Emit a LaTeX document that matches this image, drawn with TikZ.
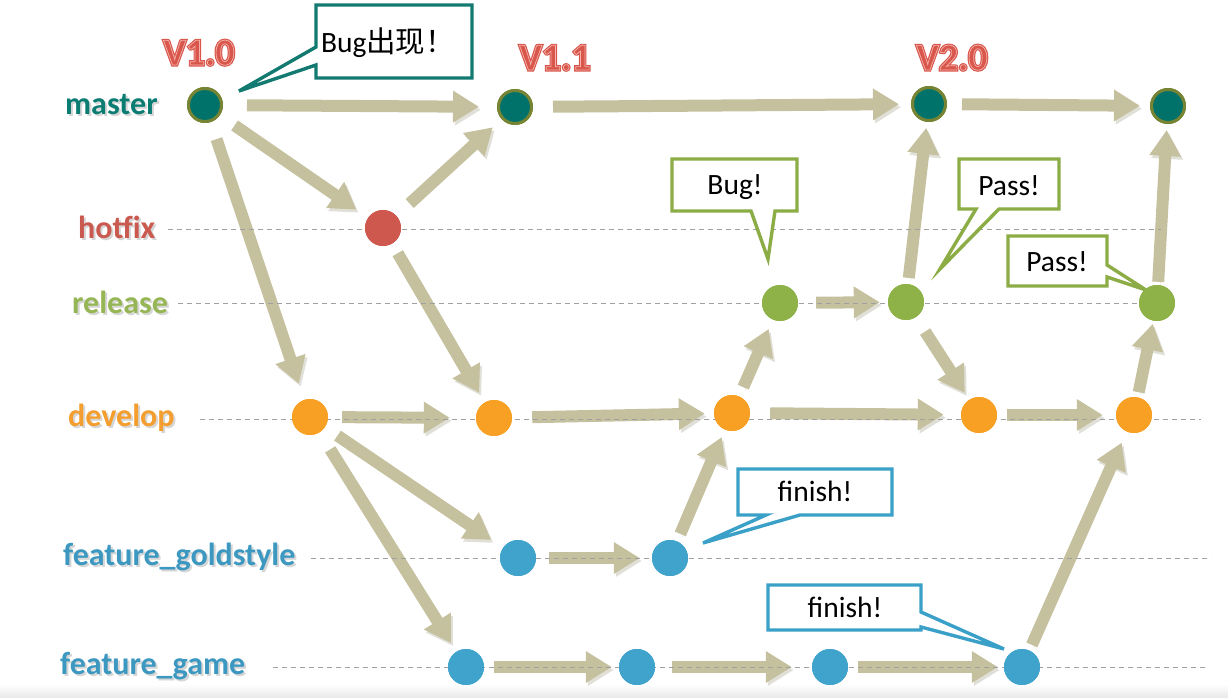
\documentclass[tikz,border=0pt]{standalone}
\usepackage{fontspec}
\setmainfont{Carlito}
\newfontfamily\cjk{Noto Sans CJK SC}
\usetikzlibrary{arrows.meta}
\definecolor{arrowc}{RGB}{197,192,158}
\definecolor{shadowc}{RGB}{224,223,216}
\definecolor{mfill}{RGB}{0,114,106}
\definecolor{mborder}{RGB}{118,132,52}
\definecolor{hotc}{RGB}{206,88,78}
\definecolor{relc}{RGB}{143,178,72}
\definecolor{devc}{RGB}{248,160,36}
\definecolor{featc}{RGB}{64,163,204}
\definecolor{lmaster}{RGB}{10,124,114}
\definecolor{lhot}{RGB}{202,90,80}
\definecolor{lrel}{RGB}{150,182,85}
\definecolor{ldev}{RGB}{244,158,48}
\definecolor{lfeat}{RGB}{60,152,192}
\definecolor{verc}{RGB}{216,86,76}
\definecolor{verl}{RGB}{246,178,168}
\definecolor{calt}{RGB}{18,122,112}
\definecolor{calg}{RGB}{140,172,70}
\definecolor{calb}{RGB}{58,160,200}
\definecolor{dashc}{RGB}{160,160,160}
\newcommand\trmode[2]{\special{pdf:literal direct #1 Tr #2 w}}
\newcommand\blabel[5]{%
  \node[lab, text=black, opacity=0.16] at (#2+2,#3+2) {#5};
  \node[lab, text=#4] (#1) at (#2,#3) {#5};}
\newcommand\vlabel[4]{%
  \node[vlab, text=verc] (#1) at (#2,#3) {\trmode{2}{3}#4\trmode{0}{1}};
  \node[vlab, text=verl] at (#2,#3) {\trmode{1}{0.7}#4\trmode{0}{1}};}
\tikzset{
  dot/.style={circle, minimum size=36pt, inner sep=0pt, fill=#1},
  mdot/.style={circle, minimum size=33pt, inner sep=0pt, fill=mfill, draw=mborder, line width=3pt},
  arr/.style={line width=12pt, draw=arrowc, -{Triangle[width=30pt,length=26pt]},
    preaction={draw=shadowc, transform canvas={shift={(2pt,-3pt)}}}},
  gap/.style 2 args={shorten <=#1pt, shorten >=#2pt},
  lab/.style={anchor=base west, inner sep=0pt, font=\fontsize{32}{36}\selectfont\bfseries},
  vlab/.style={anchor=base, inner sep=0pt, font=\fontsize{38}{42}\selectfont\bfseries},
  dline/.style={draw=dashc, line width=1pt, dash pattern=on 5pt off 4pt},
  callout/.style={draw=#1, line width=3.4pt, fill=white, line join=miter},
  ctext/.style={inner sep=0pt, font=\fontsize{29.5}{33}\selectfont},
}
\begin{document}
\begin{tikzpicture}[x=1pt, y=-1pt]
\useasboundingbox (0,0) rectangle (1228,698);
\fill[top color=white, bottom color=black!9] (0,684) rectangle (1228,698);

% nodes (positions)
\path
  (205,105) coordinate (pm1) (515,107) coordinate (pm2) (929,104) coordinate (pm3) (1168,106) coordinate (pm4);
\node[mdot] (m1) at (pm1) {};
\node[mdot] (m2) at (pm2) {};
\node[mdot] (m3) at (pm3) {};
\node[mdot] (m4) at (pm4) {};
\node[dot=hotc] (h1) at (383,228) {};
\node[dot=relc] (r1) at (780,303) {};
\node[dot=relc] (r2) at (906,302) {};
\node[dot=relc] (r3) at (1157,303) {};
\node[dot=devc] (d1) at (310,417) {};
\node[dot=devc] (d2) at (494,418) {};
\node[dot=devc] (d3) at (732,413) {};
\node[dot=devc] (d4) at (979,415) {};
\node[dot=devc] (d5) at (1134,415) {};
\node[dot=featc] (g1) at (518,558) {};
\node[dot=featc] (g2) at (670,558) {};
\node[dot=featc] (f1) at (466,667) {};
\node[dot=featc] (f2) at (637,667) {};
\node[dot=featc] (f3) at (830,667) {};
\node[dot=featc] (f4) at (1022,667) {};

% arrows
\draw[arr, gap={24}{18}] (m1) -- (m2);
\draw[arr, gap={20}{12}] (m2) -- (m3);
\draw[arr, gap={15}{10}] (m3) -- (m4);
\draw[arr, gap={18}{14}] (m1) -- (h1);
\draw[arr, gap={18}{17}] (m1) -- (d1);
\draw[arr, gap={18}{12}] (h1) -- (m2);
\draw[arr, gap={11}{11}] (h1) -- (d2);
\draw[arr, gap={18}{8}] (r1) -- (r2);
\draw[arr, gap={6}{6}] (r2) -- (m3);
\draw[arr, gap={17}{8}] (r2) -- (d4);
\draw[arr, gap={3}{6}] (r3) -- (m4);
\draw[arr, gap={14}{26}] (d1) -- (d2);
\draw[arr, gap={20}{9}] (d2) -- (d3);
\draw[arr, gap={10}{10}] (d3) -- (r1);
\draw[arr, gap={20}{17}] (d3) -- (d4);
\draw[arr, gap={10}{13}] (d4) -- (d5);
\draw[arr, gap={5}{3}] (d5) -- (r3);
\draw[arr, gap={15}{14}] (d1) -- (g1);
\draw[arr, gap={20}{10}] (d1) -- (f1);
\draw[arr, gap={13}{12}] (g1) -- (g2);
\draw[arr, gap={8}{8}] (g2) -- (d3);
\draw[arr, gap={10}{7}] (f1) -- (f2);
\draw[arr, gap={17}{20}] (f2) -- (f3);
\draw[arr, gap={10}{6}] (f3) -- (f4);
\draw[arr, gap={6}{12}] (f4) -- (d5);

% dashed branch lines
\draw[dline] (168,229) -- (1161,229);
\draw[dline] (178,303) -- (1177,303);
\draw[dline] (200,419) -- (1201,419);
\draw[dline] (311,558) -- (1211,558);
\draw[dline] (273,667) -- (1209,667);

% callouts
\draw[callout=calt] (316,5) -- (472,5) -- (472,78) -- (316,78) -- (316,65) -- (239,91) -- (316,47) -- cycle;
\node[ctext] (c1) at (388,43) {Bug{\cjk 出现！}};
\draw[callout=calg] (672,159) -- (797,159) -- (797,211) -- (775,211) -- (768,259) -- (751,211) -- (672,211) -- cycle;
\node[ctext] (c2) at (735,187) {Bug!};
\draw[callout=calg] (959,159) -- (1059,159) -- (1059,209) -- (999,209) -- (940,269) -- (976,209) -- (959,209) -- cycle;
\node[ctext] (c3) at (1009,186) {Pass!};
\draw[callout=calg] (1008,236) -- (1107,236) -- (1107,265) -- (1146,290) -- (1107,277) -- (1107,286) -- (1008,286) -- cycle;
\node[ctext] (c4) at (1057,262) {Pass!};
\draw[callout=calb] (738,469) -- (892,469) -- (892,515) -- (800,515) -- (703,543) -- (766,515) -- (738,515) -- cycle;
\node[ctext] (c5) at (815,491) {finish!};
\draw[callout=calb] (768,585) -- (921,585) -- (921,612) -- (1004,649) -- (921,627) -- (921,630) -- (768,630) -- cycle;
\node[ctext] (c6) at (845,607) {finish!};

% redraw nodes on top
\node[mdot] at (m1) {};
\node[mdot] at (m2) {};
\node[mdot] at (m3) {};
\node[mdot] at (m4) {};
\node[dot=hotc] at (h1) {};
\node[dot=relc] at (r1) {};
\node[dot=relc] at (r2) {};
\node[dot=relc] at (r3) {};
\node[dot=devc] at (d1) {};
\node[dot=devc] at (d2) {};
\node[dot=devc] at (d3) {};
\node[dot=devc] at (d4) {};
\node[dot=devc] at (d5) {};
\node[dot=featc] at (g1) {};
\node[dot=featc] at (g2) {};
\node[dot=featc] at (f1) {};
\node[dot=featc] at (f2) {};
\node[dot=featc] at (f3) {};
\node[dot=featc] at (f4) {};

% branch labels
\blabel{lm}{65}{115}{lmaster}{master}
\blabel{lh}{78}{238}{lhot}{hotfix}
\blabel{lr}{72}{313}{lrel}{release}
\blabel{ld}{68}{426}{ldev}{develop}
\blabel{lg}{63}{565}{lfeat}{feature\_goldstyle}
\blabel{lf}{60}{674}{lfeat}{feature\_game}

% version labels
\vlabel{v10}{199}{65}{V1.0}
\vlabel{v11}{555}{70}{V1.1}
\vlabel{v20}{952}{70}{V2.0}
\end{tikzpicture}
\end{document}
